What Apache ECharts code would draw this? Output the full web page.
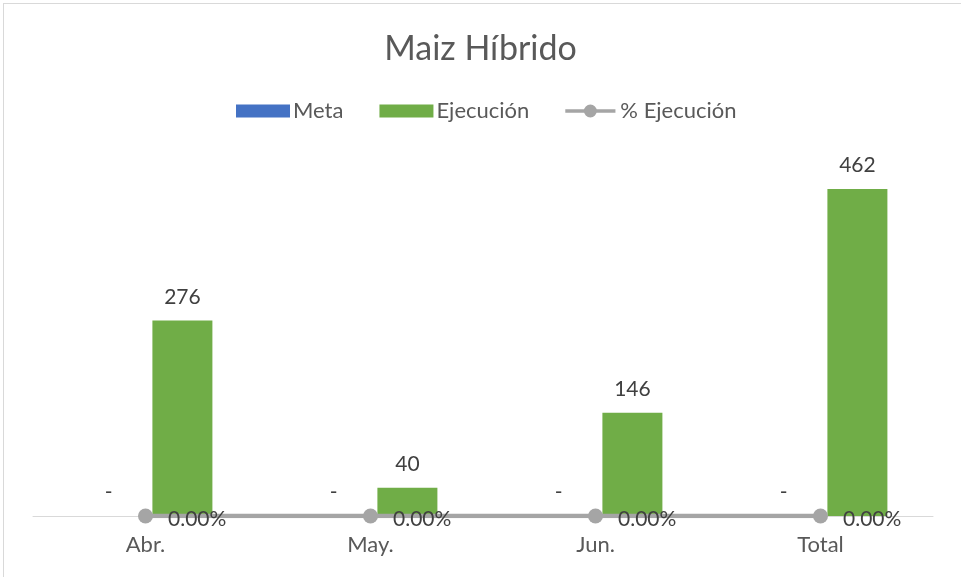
<!DOCTYPE html>
<html>
<head>
<meta charset="utf-8">
<script src="https://cdn.jsdelivr.net/npm/echarts@6/dist/echarts.min.js"></script>
<style>
html,body{margin:0;padding:0;background:#fff;}
#wrap{position:absolute;left:0;top:0;width:961px;height:577px;}
#frame{position:absolute;left:3px;top:3px;width:970px;height:600px;border:1px solid #D9D9D9;box-sizing:border-box;}
#chart{position:absolute;left:0;top:0;width:961px;height:577px;}
</style>
</head>
<body>
<div id="wrap"><div id="frame"></div><div id="chart"></div></div>
<script>
const categories = ['Abr.', 'May.', 'Jun.', 'Total'];
const meta = [0, 0, 0, 0];
const ejecucion = [276, 40, 146, 462];
const pctEjecucion = [0, 0, 0, 0];

const FONT = 'Lato';
const LINE_ICON = 'path://M0,4.5H54V8.5H0Z M20,6.5A7,7 0 1,1 34,6.5A7,7 0 1,1 20,6.5Z';
const chart = echarts.init(document.getElementById('chart'), null, {renderer: 'canvas'});
chart.setOption({
  animation: false,
  textStyle: {fontFamily: FONT},
  title: {
    text: 'Maiz Híbrido',
    left: 'center',
    top: 27,
    textStyle: {fontFamily: FONT, fontSize: 34, fontWeight: 'normal', color: '#595959'}
  },
  legend: {
    top: 95,
    left: 231,
    itemWidth: 54,
    itemHeight: 13,
    itemGap: 36,
    textStyle: {fontFamily: FONT, fontSize: 22, color: '#595959', padding: [0, 0, 0, -2]},
    data: [
      {name: 'Meta', icon: 'rect'},
      {name: 'Ejecución', icon: 'rect'},
      {name: '% Ejecución', icon: LINE_ICON}
    ]
  },
  grid: {left: 33, right: 28, top: 162, bottom: 61, containLabel: false},
  xAxis: {
    type: 'category',
    data: categories,
    axisTick: {show: false},
    axisLine: {lineStyle: {color: '#D9D9D9', width: 1}},
    axisLabel: {color: '#595959', fontSize: 22, margin: 18, fontFamily: FONT}
  },
  yAxis: [
    {type: 'value', min: 0, max: 500, show: false, splitLine: {show: false}},
    {type: 'value', min: 0, max: 1, show: false, splitLine: {show: false}}
  ],
  series: [
    {
      name: 'Meta',
      type: 'bar',
      data: meta,
      itemStyle: {color: '#4472C4'},
      barWidth: 60,
      barGap: '23%',
      barCategoryGap: '40%',
      label: {
        show: true,
        position: 'top',
        distance: 13,
        color: '#404040',
        fontSize: 21,
        fontFamily: FONT,
        formatter: p => p.value === 0 ? '-' : String(p.value)
      }
    },
    {
      name: 'Ejecución',
      type: 'bar',
      data: ejecucion,
      itemStyle: {color: '#70AD47'},
      barWidth: 60,
      barGap: '23%',
      barCategoryGap: '40%',
      label: {
        show: true,
        position: 'top',
        distance: 13,
        color: '#404040',
        fontSize: 21,
        fontFamily: FONT,
        formatter: p => p.value === 0 ? '-' : String(p.value)
      }
    },
    {
      name: '% Ejecución',
      type: 'line',
      yAxisIndex: 1,
      data: pctEjecucion,
      z: 5,
      symbol: 'circle',
      symbolSize: 15,
      lineStyle: {color: '#A5A5A5', width: 4.5},
      itemStyle: {color: '#A5A5A5'},
      label: {
        show: true,
        position: 'right',
        distance: 15,
        offset: [0, 3],
        color: '#404040',
        fontSize: 21,
        fontFamily: FONT,
        formatter: p => (p.value * 100).toFixed(2) + '%'
      }
    }
  ]
});
</script>
</body>
</html>
